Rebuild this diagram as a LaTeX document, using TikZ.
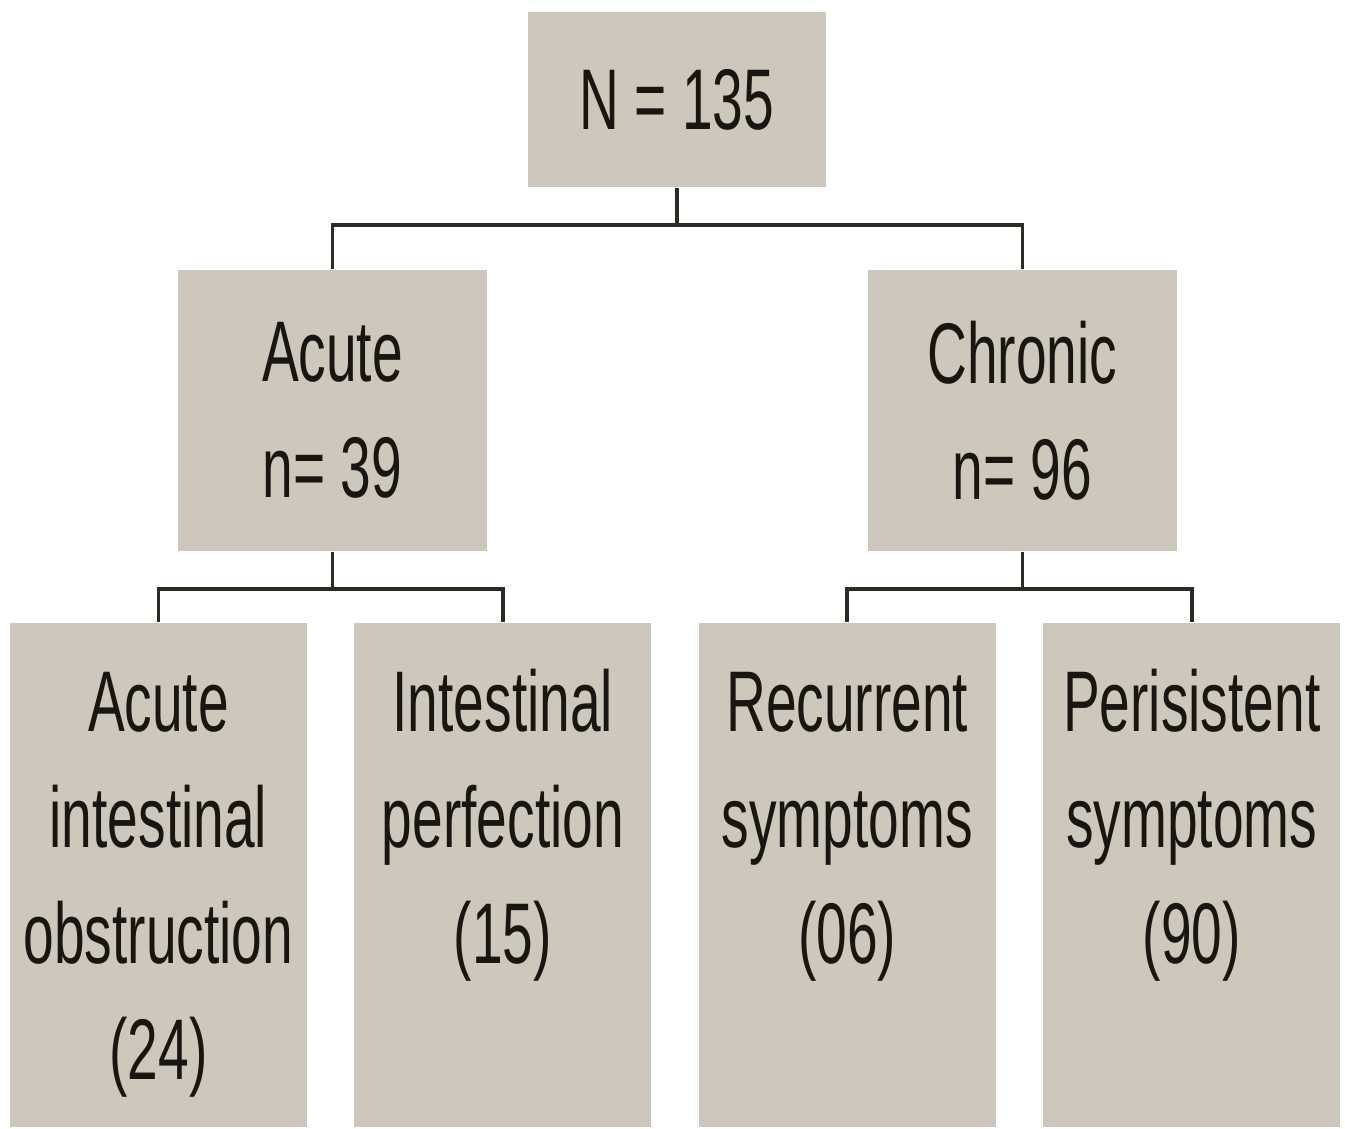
\documentclass[tikz,border=0pt]{standalone}
\usepackage{fontspec}
\usetikzlibrary{positioning}
\newfontfamily\narrowsans[FakeStretch=0.64]{Liberation Sans}
\definecolor{boxfill}{RGB}{205,200,187}
\definecolor{linkdark}{RGB}{45,42,35}
\definecolor{inkdark}{RGB}{25,22,18}
\newcommand{\leaftext}[1]{\parbox[t][5.04cm][t]{2.97cm}{\centering\rule{0pt}{1.09cm}#1}}

\begin{document}
\begin{tikzpicture}[
    font=\narrowsans\fontsize{24.5}{33}\selectfont,
    box/.style   = {rectangle, fill=boxfill, text=inkdark, inner sep=0pt},
    total/.style = {box, align=center, minimum width=2.98cm, minimum height=1.75cm},
    group/.style = {box, align=center, minimum width=3.09cm, minimum height=2.81cm},
    leaf/.style  = {box, minimum width=2.97cm, minimum height=5.04cm},
    link/.style  = {draw=linkdark, line width=1.1pt},
]
\fill[white] (0,0) rectangle (13.45,-11.28);
\useasboundingbox (0,0) rectangle (13.45,-11.28);

% ---------------- top and groups ----------------
\node[total] (total) at (6.77,-0.995) {N = 135};
\node[group] (acute) at (3.325,-4.105) {Acute\\n= 39};
\node[group] (chronic) at (10.225,-4.105) {Chronic\\n= 96};

% ---------------- leaves ----------------
\node[leaf, anchor=north] (obstruction) at (1.585,-6.22) {\leaftext{Acute\\intestinal\\obstruction\\(24)}};
\node[leaf, right=0.46cm of obstruction] (perforation) {\leaftext{Intestinal\\perfection\\(15)}};
\node[leaf, right=0.46cm of perforation] (recurrent) {\leaftext{Recurrent\\symptoms\\(06)}};
\node[leaf, right=0.46cm of recurrent] (persistent) {\leaftext{Perisistent\\symptoms\\(90)}};

% ---------------- connectors ----------------
\draw[link] (total.south) -- ++(0,-0.37) coordinate (topfork);
\draw[link] (acute.north) |- (topfork) -| (chronic.north);
\draw[link] (acute.south) -- ++(0,-0.37) coordinate (acutefork);
\draw[link] (obstruction.north) |- (acutefork) -| (perforation.north);
\draw[link] (chronic.south) -- ++(0,-0.37) coordinate (chronicfork);
\draw[link] (recurrent.north) |- (chronicfork) -| (persistent.north);

\end{tikzpicture}
\end{document}
